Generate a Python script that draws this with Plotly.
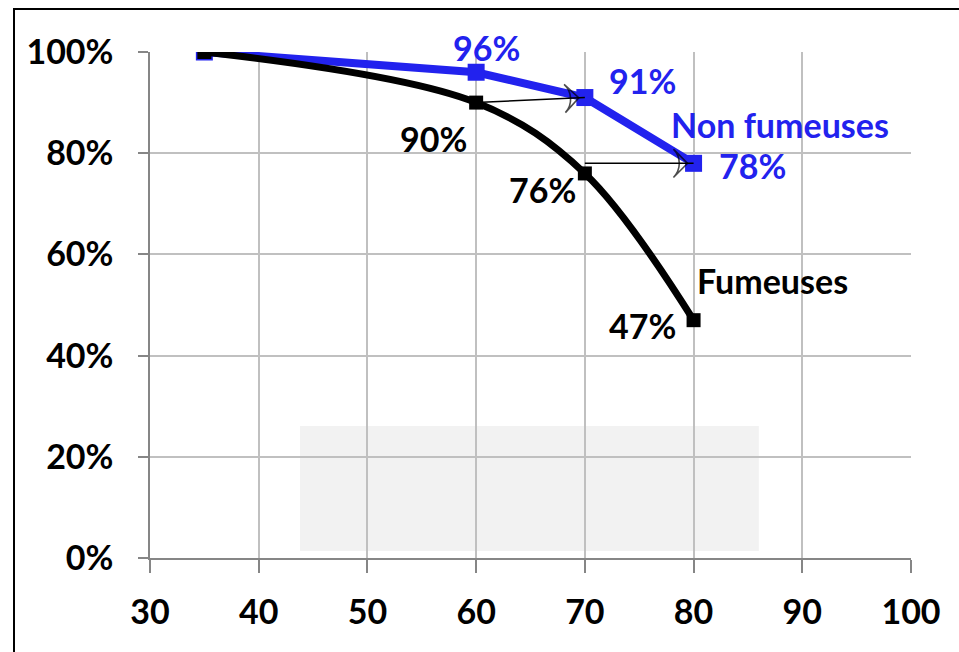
import plotly.graph_objects as go

# Age (years) and share still alive
ages = [35, 60, 70, 80]
fumeuses = [100, 90, 76, 47]
non_fumeuses = [100, 96, 91, 78]

x_ticks = [30, 40, 50, 60, 70, 80, 90, 100]
y_ticks = [0, 20, 40, 60, 80, 100]
y_tick_text = [f"{v}%" for v in y_ticks]

# Shaded band behind the curves (x from, x to, y from, y to)
band_x = [43.8, 86.0]
band_y = [1.4, 26.1]

BLUE = "#2222ee"
FONT = "Lato, sans-serif"
W, H = 959, 652
ML, MR, MT, MB = 150, 48, 52, 94

fig = go.Figure()

fig.add_shape(type="rect", xref="x", yref="y",
              x0=band_x[0], x1=band_x[1], y0=band_y[0], y1=band_y[1],
              fillcolor="#f2f2f2", line_width=0, layer="below")

fig.add_trace(go.Scatter(
    x=ages, y=non_fumeuses, mode="lines+markers",
    line=dict(color=BLUE, width=8),
    marker=dict(symbol="square", size=17, color=BLUE),
    showlegend=False, hoverinfo="skip"))

fig.add_trace(go.Scatter(
    x=ages, y=fumeuses, mode="lines+markers",
    line=dict(color="black", width=7, shape="spline", smoothing=1),
    marker=dict(symbol="square", size=14, color="black"),
    showlegend=False, hoverinfo="skip"))

# Arrows from the smokers' curve to the non-smokers' curve
arrows = [
    ((ages[1], fumeuses[1]), (ages[2], non_fumeuses[2])),
    ((ages[2], non_fumeuses[3]), (ages[3], non_fumeuses[3])),
]
for (xa, ya), (xb, yb) in arrows:
    fig.add_trace(go.Scatter(
        x=[xa, xb], y=[ya, yb], mode="lines+markers",
        line=dict(color="black", width=1.5),
        marker=dict(symbol=["circle", "arrow-wide-open"], size=[0, 20],
                    angleref="previous", standoff=[0, 6], color="black",
                    line=dict(color="black", width=1.6)),
        showlegend=False, hoverinfo="skip"))

def label(x, y, text, color, dx=0, dy=0, size=34):
    fig.add_annotation(x=x, y=y, xref="x", yref="y", text=text, showarrow=False,
                       xshift=dx, yshift=dy,
                       font=dict(family=FONT, size=size, color=color, weight="bold"))

label(ages[1], non_fumeuses[1], f"{non_fumeuses[1]}%", BLUE, dx=10, dy=25)
label(ages[2], non_fumeuses[2], f"{non_fumeuses[2]}%", BLUE, dx=58, dy=17)
label(ages[3], non_fumeuses[3], f"{non_fumeuses[3]}%", BLUE, dx=59, dy=-2)
label(ages[3], non_fumeuses[3], "Non fumeuses", BLUE, dx=86, dy=39)
label(ages[1], fumeuses[1], f"{fumeuses[1]}%", "black", dx=-43, dy=-36)
label(ages[2], fumeuses[2], f"{fumeuses[2]}%", "black", dx=-42, dy=-16)
label(ages[3], fumeuses[3], f"{fumeuses[3]}%", "black", dx=-51, dy=-5)
label(ages[3], fumeuses[3], "Fumeuses", "black", dx=79, dy=40)

# Outer frame around the chart
pw, ph = W - ML - MR, H - MT - MB
fig.add_shape(type="rect", xref="paper", yref="paper",
              x0=(14 - ML) / pw, x1=(965 - ML) / pw,
              y0=(H - MB - 660) / ph, y1=(H - MB - 9) / ph,
              line=dict(color="black", width=2), fillcolor="rgba(0,0,0,0)")

fig.update_xaxes(range=[30, 100], tickvals=x_ticks, ticktext=[str(v) for v in x_ticks],
                 showgrid=True, gridcolor="#c0c0c0", gridwidth=1.5,
                 showline=True, linecolor="#868686", linewidth=1.5,
                 ticks="outside", ticklen=13, tickcolor="#868686", tickwidth=1.5,
                 ticklabelstandoff=10,
                 tickfont=dict(family=FONT, size=34, color="black", weight="bold"),
                 zeroline=False, fixedrange=True)
fig.update_yaxes(range=[0, 100], tickvals=y_ticks, ticktext=y_tick_text,
                 showgrid=True, gridcolor="#c0c0c0", gridwidth=1.5,
                 showline=True, linecolor="#868686", linewidth=1.5,
                 ticks="outside", ticklen=10, tickcolor="#868686", tickwidth=1.5,
                 ticklabelstandoff=18,
                 tickfont=dict(family=FONT, size=34, color="black", weight="bold"),
                 zeroline=False, fixedrange=True)

fig.update_layout(width=W, height=H, margin=dict(l=ML, r=MR, t=MT, b=MB),
                  paper_bgcolor="white", plot_bgcolor="white")

fig.write_html("out.html")
